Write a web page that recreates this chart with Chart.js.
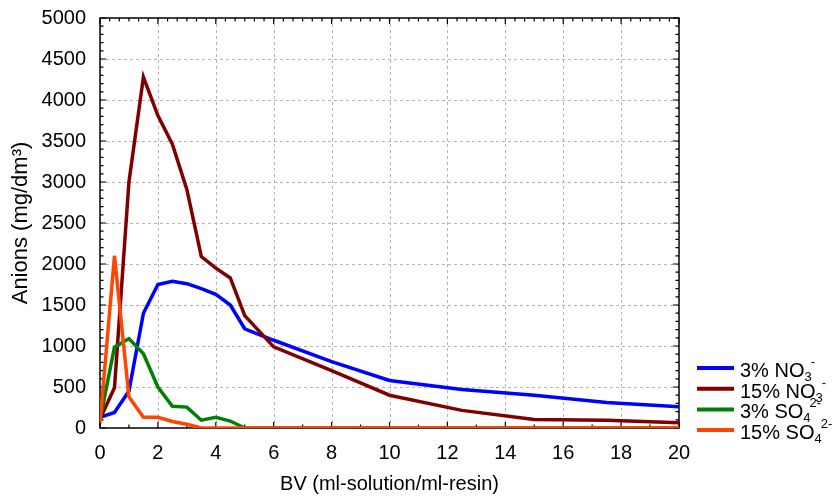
<!DOCTYPE html>
<html>
<head>
<meta charset="utf-8">
<script src="https://cdn.jsdelivr.net/npm/chart.js@4/dist/chart.umd.min.js"></script>
<style>
  body { margin: 0; background: #fff; }
  canvas { display: block; }
</style>
</head>
<body>
<canvas id="chart-line" width="834" height="498"></canvas>
<script>
// BV values (ml-solution/ml-resin)
var bv = [0, 0.5, 1, 1.5, 2, 2.5, 3, 3.5, 4, 4.5, 5, 6, 8, 10, 12.5, 15, 17.5, 20];

// anion concentrations, mg/dm3
var no3Low  = [130, 190, 450, 1400, 1750, 1790, 1760, 1700, 1630, 1500, 1210, 1070, 810, 580, 470, 400, 310, 260];
var no3High = [110, 490, 3000, 4280, 3810, 3460, 2910, 2090, 1950, 1830, 1370, 990, 700, 400, 215, 105, 95, 64];
var so4Low  = [100, 985, 1090, 905, 500, 265, 255, 95, 130, 85, 0, 0, 0, 0, 0, 0, 0, 0];
var so4High = [60, 2100, 380, 130, 130, 80, 45, 0, 0, 0, 0, 0, 0, 0, 0, 0, 0, 0];

// legend: main text, subscript, superscript
var legendMain = ["3% NO", "15% NO", "3% SO", "15% SO"];
var legendSub = ["3", "3", "4", "4"];
var legendSup = ["-", "-", "2-", "2-"];

var colors = ["#0000ff", "#800000", "#008000", "#ff4500"];
var FONT = "'Liberation Sans', Arial, sans-serif";

function toPoints(arr) {
    return bv.map(function (x, i) { return { x: x, y: arr[i] }; });
}

// dotted grid + boxed frame with inward ticks
var framePlugin = {
    id: 'frame',
    beforeDatasetsDraw: function (chart) {
        var ctx = chart.ctx;
        var a = chart.chartArea;
        var xs = chart.scales.x, ys = chart.scales.y;
        ctx.save();
        ctx.strokeStyle = '#b4b4b4';
        ctx.lineWidth = 1;
        ctx.setLineDash([3, 3]);
        for (var v = 2; v < 20; v += 2) {
            var px = Math.round(xs.getPixelForValue(v)) + 0.5;
            ctx.beginPath(); ctx.moveTo(px, a.top); ctx.lineTo(px, a.bottom); ctx.stroke();
        }
        for (var w = 500; w < 5000; w += 500) {
            var py = Math.round(ys.getPixelForValue(w)) + 0.5;
            ctx.beginPath(); ctx.moveTo(a.left, py); ctx.lineTo(a.right, py); ctx.stroke();
        }
        ctx.setLineDash([]);
        ctx.strokeStyle = '#000';
        ctx.lineWidth = 1.5;
        ctx.strokeRect(a.left, a.top, a.right - a.left, a.bottom - a.top);
        ctx.lineWidth = 1.2;
        // left / right ticks
        for (var t = 0; t <= 5000; t += 100) {
            var y = ys.getPixelForValue(t);
            var len = (t % 500 === 0) ? 6 : 3.5;
            ctx.beginPath();
            ctx.moveTo(a.left, y); ctx.lineTo(a.left + len, y);
            ctx.moveTo(a.right, y); ctx.lineTo(a.right - len, y);
            ctx.stroke();
        }
        // bottom ticks
        for (var b = 0; b <= 20; b += 1) {
            var x = xs.getPixelForValue(b);
            var l2 = (b % 2 === 0) ? 6 : 3.5;
            ctx.beginPath(); ctx.moveTo(x, a.bottom); ctx.lineTo(x, a.bottom - l2); ctx.stroke();
        }
        // top ticks
        for (var k = 0; k <= 60; k++) {
            var xt = xs.getPixelForValue(k / 3);
            var l3 = (k % 6 === 0) ? 6 : 3.5;
            ctx.beginPath(); ctx.moveTo(xt, a.top); ctx.lineTo(xt, a.top + l3); ctx.stroke();
        }
        ctx.restore();
    }
};

// legend with sub/superscripts, bottom right
var legendPlugin = {
    id: 'chemLegend',
    afterDraw: function (chart) {
        var ctx = chart.ctx;
        var a = chart.chartArea;
        ctx.save();
        for (var i = 0; i < legendMain.length; i++) {
            var y = 368 + i * 20.7;
            ctx.strokeStyle = colors[i];
            ctx.lineWidth = 4;
            ctx.beginPath(); ctx.moveTo(a.right + 18, y); ctx.lineTo(a.right + 55, y); ctx.stroke();
            var x = a.right + 61;
            var base = y + 9;
            ctx.fillStyle = '#000';
            ctx.textBaseline = 'alphabetic';
            ctx.font = '20px ' + FONT;
            ctx.fillText(legendMain[i], x, base);
            x += ctx.measureText(legendMain[i]).width;
            ctx.font = '13px ' + FONT;
            ctx.fillText(legendSub[i], x, base + 4);
            x += ctx.measureText(legendSub[i]).width - 1;
            ctx.fillText(legendSup[i], x, base - 11);
        }
        ctx.restore();
    }
};

var ctx1 = document.getElementById('chart-line').getContext('2d');

var myChart = new Chart(ctx1, {
    type: 'line',
    data: {
        datasets: [
            { label: '3% NO3-', data: toPoints(no3Low), borderColor: colors[0], order: 4 },
            { label: '15% NO3-', data: toPoints(no3High), borderColor: colors[1], order: 3 },
            { label: '3% SO4 2-', data: toPoints(so4Low), borderColor: colors[2], order: 2 },
            { label: '15% SO4 2-', data: toPoints(so4High), borderColor: colors[3], order: 1 }
        ]
    },
    options: {
        responsive: false,
        animation: false,
        elements: {
            line: { borderWidth: 3.5, tension: 0, fill: false },
            point: { radius: 0 }
        },
        layout: { padding: { top: 15, right: 155, left: 0, bottom: 0 } },
        plugins: {
            legend: { display: false },
            tooltip: { enabled: false }
        },
        scales: {
            x: {
                type: 'linear',
                min: 0,
                max: 20,
                grid: { display: false },
                border: { display: false },
                ticks: {
                    stepSize: 2,
                    color: '#000',
                    padding: 5,
                    maxRotation: 0,
                    font: { family: FONT, size: 20 },
                    callback: function (v) { return String(v); }
                },
                title: {
                    display: true,
                    text: 'BV (ml-solution/ml-resin)',
                    color: '#000',
                    font: { family: FONT, size: 20 },
                    padding: { top: 4, bottom: 2 }
                },
                afterFit: function (scale) { scale.height = 70; }
            },
            y: {
                min: 0,
                max: 5000,
                grid: { display: false },
                border: { display: false },
                ticks: {
                    stepSize: 500,
                    color: '#000',
                    padding: 6,
                    font: { family: FONT, size: 20 },
                    callback: function (v) { return String(v); }
                },
                title: {
                    display: true,
                    text: 'Anions (mg/dm³)',
                    color: '#000',
                    font: { family: FONT, size: 22 },
                    padding: { top: 8, bottom: 0 }
                },
                afterFit: function (scale) { scale.width = 100; }
            }
        }
    },
    plugins: [framePlugin, legendPlugin]
});
</script>
</body>
</html>
